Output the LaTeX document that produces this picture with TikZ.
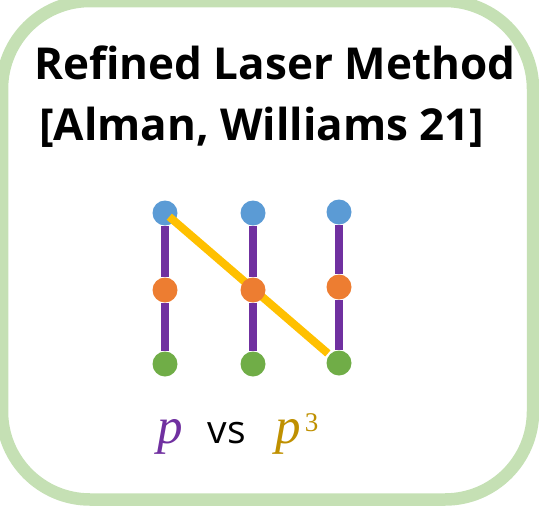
\RequirePackage{fix-cm}
\documentclass[tikz,border=0pt]{standalone}
\usepackage{fontspec}
\newfontfamily\headfont{Open Sans}
\newfontfamily\varfont{Liberation Serif}
\usetikzlibrary{positioning}
\definecolor{boxG}{RGB}{197,224,180}
\definecolor{dotB}{RGB}{91,155,213}
\definecolor{dotO}{RGB}{237,125,49}
\definecolor{dotG}{RGB}{112,173,71}
\definecolor{lineP}{RGB}{112,48,160}
\definecolor{lineY}{RGB}{255,192,0}
\definecolor{textY}{RGB}{191,144,0}

\begin{document}
\begin{tikzpicture}[x=1pt,y=-1pt,
  dot/.style={circle,inner sep=0pt,minimum size=25pt},
  headline/.style={font=\headfont\bfseries\fontsize{44}{50}\selectfont,inner sep=0pt,anchor=base west},
  var/.style={font=\varfont\itshape\fontsize{51}{56}\selectfont,inner sep=0pt},
  bar/.style={lineP,line width=8pt},
  link/.style={lineY,line width=8pt}]
\useasboundingbox (0,0) rectangle (539,507);
\draw[boxG,line width=12.5pt,rounded corners=88pt] (2,1) rectangle (533,499.5);
\node[headline] (head1) at (34,79) {Refined Laser Method};
\node[headline] (head2) at (39,140) {[Alman, Williams 21]};
% top row
\node[dot,fill=dotB] (b1) at (165,213) {};
\node[dot,fill=dotB] (b2) at (253,213) {};
\node[dot,fill=dotB] (b3) at (339,212) {};
% bottom row
\node[dot,fill=dotG] (g1) at (165,364) {};
\node[dot,fill=dotG] (g2) at (253,364) {};
\node[dot,fill=dotG] (g3) at (339,363) {};
\draw[link,shorten <=-7pt,shorten >=2pt] (b1) -- (g3);  % diagonal under the middle row
% middle row
\node[dot,fill=dotO] (o1) at (165,290) {};
\node[dot,fill=dotO] (o2) at (253,290) {};
\node[dot,fill=dotO] (o3) at (339,287) {};
\draw[bar] (b1) -- (o1) (o1) -- (g1);
\draw[bar] (b2) -- (o2) (o2) -- (g2);
\draw[bar] (b3) -- (o3) (o3) -- (g3);
% caption
\node[font=\headfont\fontsize{39}{45}\selectfont,inner sep=0pt,anchor=base] (vs) at (227,443) {vs};
\node[var,text=lineP,base left=25pt of vs] (pone) {p};
\node[var,text=textY,base right=29pt of vs] (pcube) {p\kern4pt\raisebox{12pt}{\upshape\fontsize{27}{27}\selectfont 3}};
\end{tikzpicture}
\end{document}
